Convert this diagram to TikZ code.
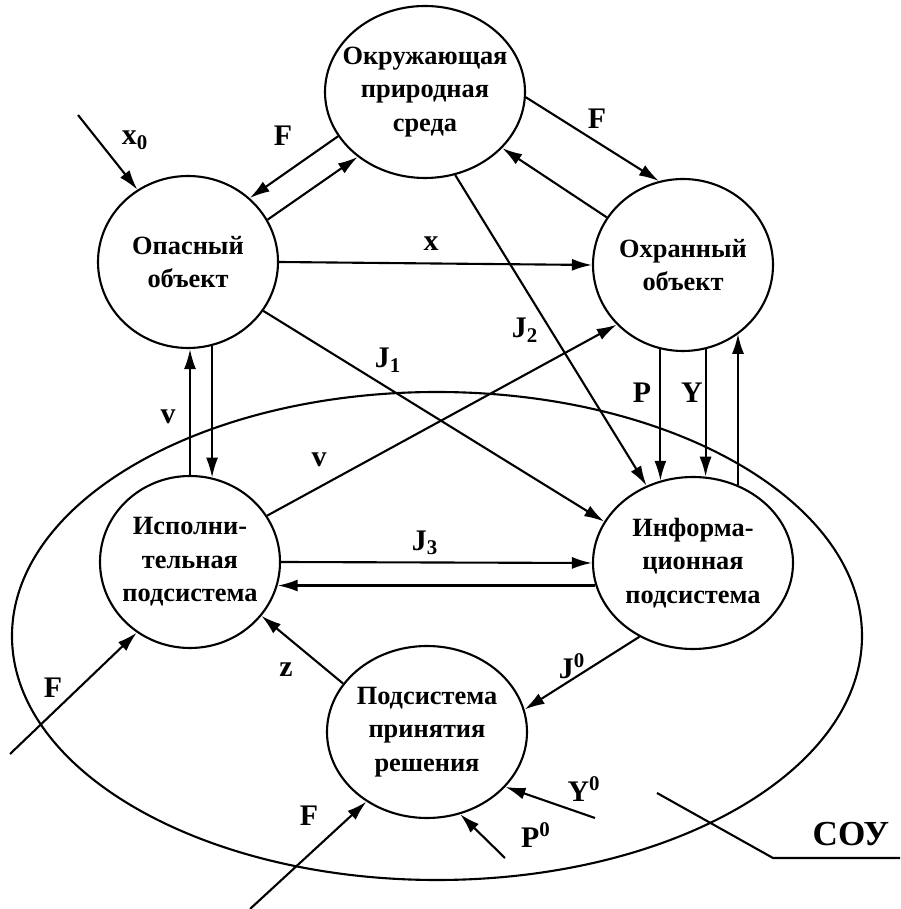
\documentclass[tikz,border=0pt]{standalone}
\usepackage{fontspec}
\setmainfont{Liberation Serif}
\usetikzlibrary{shapes.geometric,arrows.meta}

\begin{document}
\begin{tikzpicture}[
  unittext/.style={align=center, font=\fontsize{15}{19}\selectfont\bfseries},
  unit/.style={ellipse, draw, line width=1.2pt, inner sep=0pt,
    minimum width=3.6cm, minimum height=3.44cm,
    label={[unittext]center:#1}},
  wideunit/.style={unit=#1, minimum width=4cm},
  lbl/.style={font=\fontsize{17}{17}\selectfont\bfseries},
  flow/.style={line width=1.2pt, -{Latex[length=4mm,width=2.4mm]}},
]
  \useasboundingbox (0,0) rectangle (18,18.18);

  % Units of the system
  \node[wideunit={Окружающая\\природная\\среда}] (env) at (8.5,16.34) {};
  \node[unit={Опасный\\объект}] (dang) at (3.76,12.94) {};
  \node[unit={Охранный\\объект}] (prot) at (13.66,12.88) {};
  \node[unit={Исполни-\\тельная\\подсистема}] (exec) at (3.8,6.94) {};
  \node[wideunit={Информа-\\ционная\\подсистема}] (info) at (13.86,6.92) {};
  \node[wideunit={Подсистема\\принятия\\решения}] (dec) at (8.54,3.54) {};

  % Control system boundary
  \draw[line width=1.2pt] (8.74,5.46) ellipse [x radius=8.5cm, y radius=4.88cm];

  % Outer links
  \coordinate (x0in) at (1.56,15.88);
  \draw[flow] (x0in) -- (dang.125);
  \draw[flow] (env.207) -- (dang.46);
  \draw[flow] (dang.28) -- (env.224);
  \draw[flow] (env.-3) -- (prot.106);
  \draw[flow] (prot.148) -- (env.-36);
  \draw[flow] (dang.east) -- (prot.west);
  \draw[flow] (env.-70) -- (info.121);
  \draw[flow] (dang.-33) -- (info.155);
  \draw[flow] (exec.31) -- (prot.222);
  \node[lbl] (lx0) at (2.7,15.38) {x\textsubscript{0}};
  \node[lbl] (lf1) at (5.66,15.46) {F};
  \node[lbl] (lf2) at (11.94,15.8) {F};
  \node[lbl] (lx) at (8.62,13.3) {x};
  \node[lbl] (lj1) at (7.76,10.98) {J\textsubscript{1}};
  \node[lbl] (lj2) at (10.5,11.58) {J\textsubscript{2}};
  \node[lbl] (lv2) at (6.38,8.98) {v};

  % Vertical links
  \draw[flow] (exec.north) -- (exec.north |- dang.south);
  \draw[flow] (dang.-74) -- (dang.-74 |- exec.75);
  \draw[flow] (prot.-105) -- (prot.-105 |- info.112);
  \draw[flow] (prot.-75) -- (prot.-75 |- info.81);
  \draw[flow] (info.60) -- (info.60 |- prot.-51);
  \node[lbl] (lv1) at (3.36,9.84) {v};
  \node[lbl] (lp) at (12.84,10.32) {P};
  \node[lbl] (ly) at (13.84,10.32) {Y};

  % Links inside the control system
  \draw[flow] (exec.east) -- (info.west);
  \draw[flow] (info.193) -- (info.193 -| exec.-15);
  \draw[flow] (info.234) -- (dec.13);
  \draw[flow] (dec.150) -- (exec.-37);
  \node[lbl] (lj3) at (8.5,7.32) {J\textsubscript{3}};
  \node[lbl] (lj0) at (11.44,4.86) {J\textsuperscript{0}};
  \node[lbl] (lz) at (5.72,4.78) {z};

  % Disturbances and inputs
  \coordinate (fexec) at (0.2,3.1);
  \coordinate (fdec) at (5.0,0);
  \coordinate (y0in) at (11.9,1.82);
  \coordinate (p0in) at (10.1,1.02);
  \draw[flow] (fexec) -- (exec.233);
  \draw[flow] (fdec) -- (dec.229);
  \draw[flow] (y0in) -- (dec.-35);
  \draw[flow] (p0in) -- (dec.-68);
  \node[lbl] (lf3) at (1.06,4.42) {F};
  \node[lbl] (lf4) at (6.18,1.86) {F};
  \node[lbl] (ly0) at (11.68,2.4) {Y\textsuperscript{0}};
  \node[lbl] (lp0) at (10.72,1.48) {P\textsuperscript{0}};

  % Pointer to the system name
  \coordinate (soua) at (13.14,2.32);
  \coordinate (soub) at (15.46,1.02);
  \coordinate (souc) at (18,1.02);
  \draw[line width=1.2pt] (soua) -- (soub) -- (souc);
  \node[font=\fontsize{20}{20}\selectfont\bfseries] (sou) at (17.02,1.5) {СОУ};
\end{tikzpicture}
\end{document}
